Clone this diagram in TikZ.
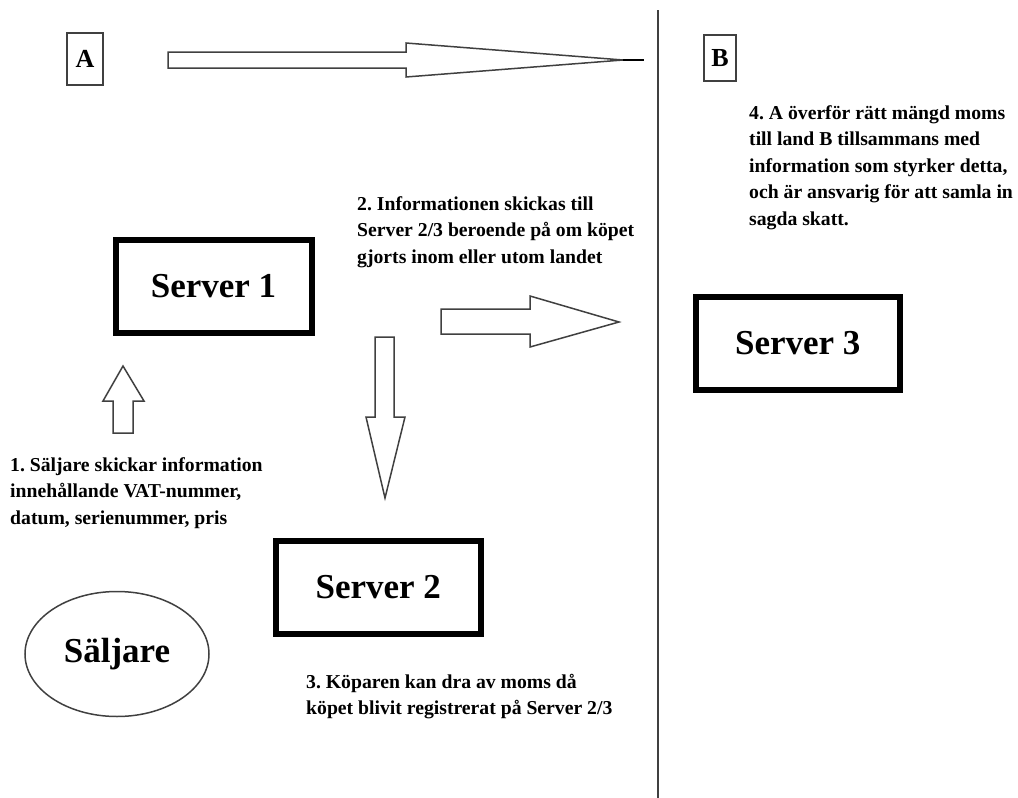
\documentclass[tikz,border=0pt]{standalone}
\usepackage{fontspec}
\setmainfont{Liberation Serif}
\usetikzlibrary{shapes.geometric}
\definecolor{linegray}{HTML}{404040}
\frenchspacing
\begin{document}
\begin{tikzpicture}[x=1pt,y=-1pt,
  serverbox/.style={draw=black,line width=6pt,inner sep=0pt,minimum height=93pt,
    font=\bfseries\fontsize{35}{40}\selectfont},
  letterbox/.style={draw=linegray,line width=1.5pt,inner sep=0pt,
    font=\bfseries\fontsize{26}{30}\selectfont},
  note/.style={anchor=base west,inner sep=0pt,align=left,
    font=\bfseries\fontsize{19.7}{26.4}\selectfont\frenchspacing},
  blockarrow/.style={draw=linegray,line width=1.5pt,fill=white,line join=miter}]
\useasboundingbox (0,0) rectangle (1018,798);
% divider
\coordinate (divtop) at (658,10);
\coordinate (divbot) at (658,798);
\draw[linegray,line width=1.5pt] (divtop) -- (divbot);
% letters
\node[letterbox,minimum width=36pt,minimum height=52pt] (A) at (85,59) {A};
\node[letterbox,minimum width=32pt,minimum height=46pt] (B) at (720,58) {B};
% servers
\node[serverbox,minimum width=196pt] (s1) at (213.5,286.5) {Server 1};
\node[serverbox,minimum width=205.5pt] (s2) at (378.3,587.5) {Server 2};
\node[serverbox,minimum width=204.5pt] (s3) at (797.8,343.5) {Server 3};
% seller
\node[ellipse,draw=linegray,line width=1.5pt,minimum width=184pt,minimum height=125pt,
  inner sep=0pt,font=\bfseries\fontsize{35}{40}\selectfont] (sel) at (117,654) {Säljare};
% top arrow A -> B
\draw[blockarrow] (168,52) -- (406,52) -- (406,43) -- (623,60) -- (406,77) -- (406,68) -- (168,68) -- cycle;
\coordinate (tipA) at (623,60);
\coordinate (tipB) at (644,60);
\draw[black,line width=2.5pt] (tipA) -- (tipB);
% right arrow server1 -> server3
\draw[blockarrow] (441,309) -- (530,309) -- (530,296) -- (619,322) -- (530,347) -- (530,334) -- (441,334) -- cycle;
% down arrow server1 -> server2
\draw[blockarrow] (375,337) -- (394,337) -- (394,417) -- (405,417) -- (385,498) -- (366,417) -- (375,417) -- cycle;
% up arrow seller -> server1
\draw[blockarrow] (113,433) -- (113,401) -- (103,401) -- (123,366) -- (144,401) -- (133,401) -- (133,433) -- cycle;
% notes (base anchor = baseline of last line)
\node[note] (n1) at (10,524.3) {1. Säljare skickar information\\innehållande VAT-nummer,\\datum, serienummer, pris};
\node[note] (n2) at (357,263.3) {2. Informationen skickas till\\Server 2/3 beroende på om köpet\\gjorts inom eller utom landet};
\node[note] (n3) at (306,714.9) {3. Köparen kan dra av moms då\\köpet blivit registrerat på Server 2/3};
\node[note] (n4) at (749,225.1) {4. A överför rätt mängd moms\\till land B tillsammans med\\information som styrker detta,\\och är ansvarig för att samla in\\sagda skatt.};
\end{tikzpicture}
\end{document}
